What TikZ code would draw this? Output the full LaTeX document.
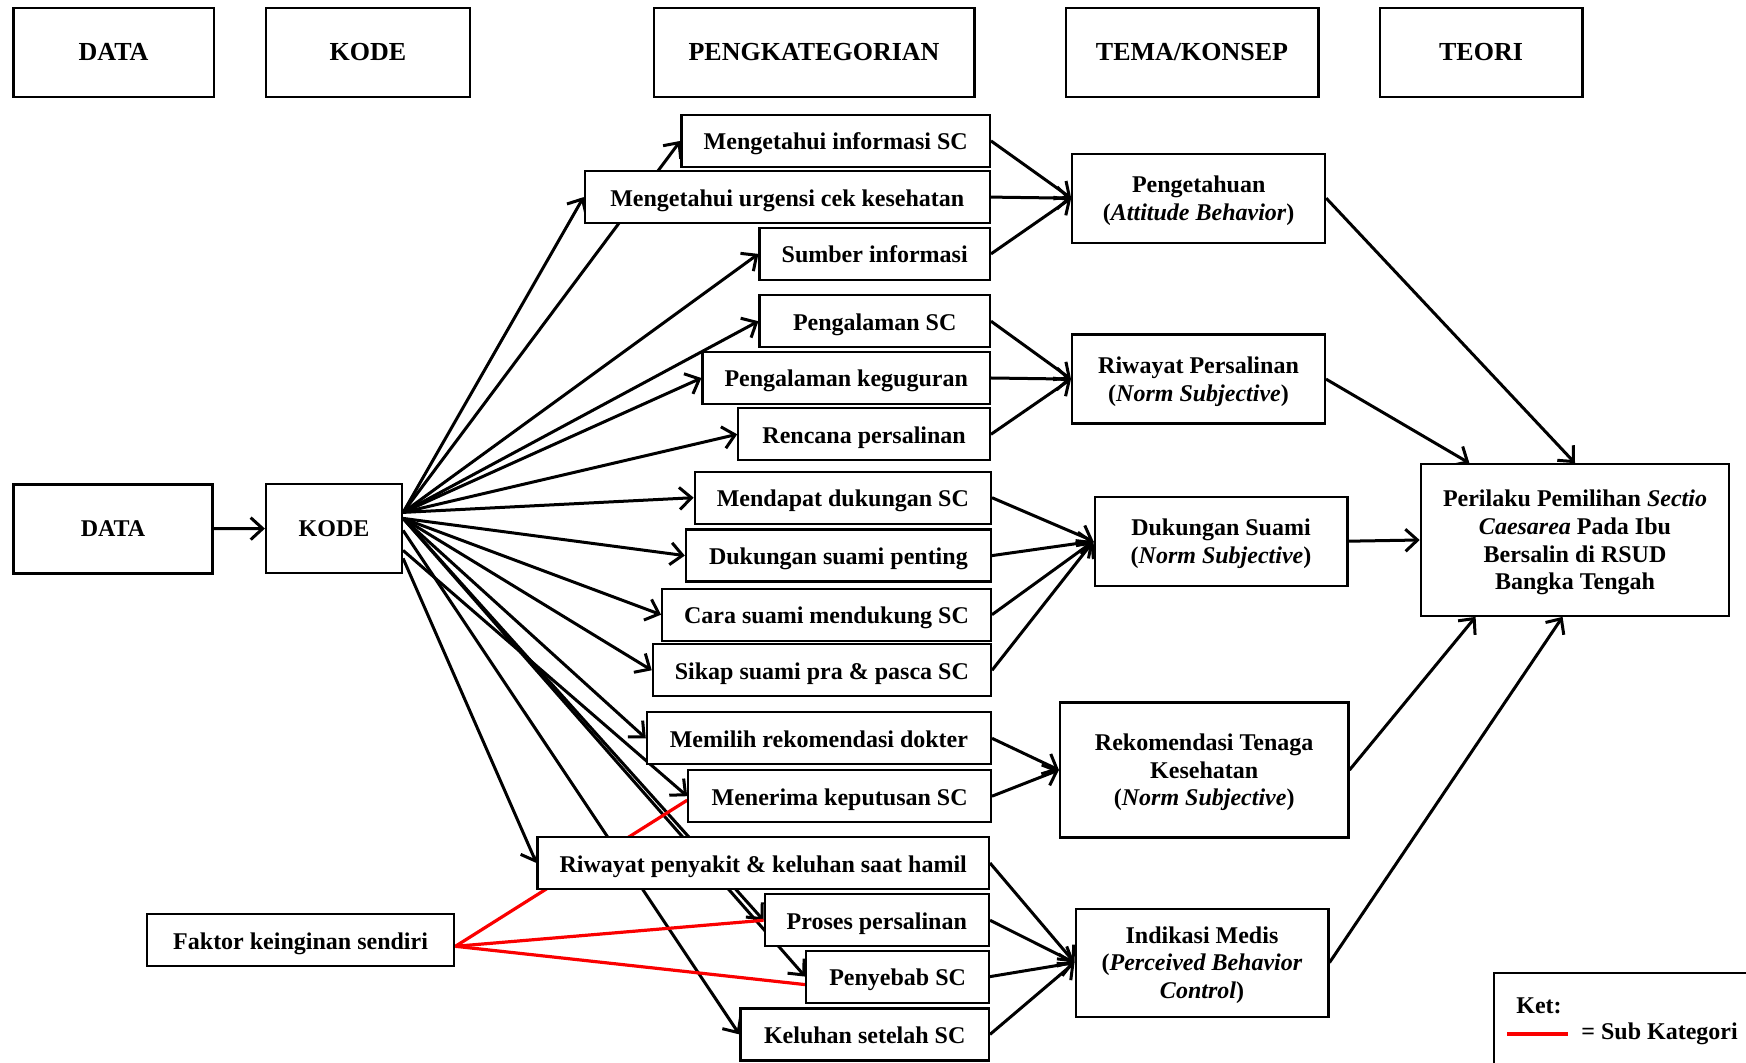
\documentclass[tikz,border=0pt]{standalone}
\usepackage{fontspec}
\setmainfont{Liberation Serif}
\usetikzlibrary{arrows.meta, calc, backgrounds}
\definecolor{subRed}{RGB}{250, 0, 0}

\begin{document}
\begin{tikzpicture}[
    x=0.5pt, y=-0.5pt,
    font=\fontsize{12}{13.8}\selectfont\bfseries,
    headbox/.style={
        rectangle, draw, line width=1.1pt, minimum height=44.5pt,
        font=\fontsize{13}{15}\selectfont\bfseries
    },
    srcbox/.style={rectangle, draw, line width=1.1pt, fill=white, minimum height=44.5pt},
    catbox/.style={
        rectangle, draw, line width=1.1pt, fill=white, minimum height=26pt,
        inner xsep=11pt, text height=10.5pt, text depth=1.5pt, anchor=east
    },
    temabox/.style={
        rectangle, draw, line width=1.1pt, fill=white, align=center,
        minimum width=126.4pt, minimum height=44.5pt, inner sep=2pt, text depth=-1.5pt
    },
    mainarrow/.style={-{Straight Barb[length=6pt, width=11pt]}, line width=1.5pt},
    subline/.style={subRed, line width=1.6pt}
]
\useasboundingbox (0,0) rectangle (1746,1063);

% header row
\node[headbox, minimum width=100.2pt] (hdata)  at (113.6,52.3) {DATA};
\node[headbox, minimum width=101.9pt] (hkode)  at (368,52.3)   {KODE};
\node[headbox, minimum width=160.4pt] (hkat)   at (814,52.3)   {PENGKATEGORIAN};
\node[headbox, minimum width=126.4pt] (htema)  at (1192,52.3)  {TEMA/KONSEP};
\node[headbox, minimum width=101.4pt] (hteori) at (1481,52.3)  {TEORI};

\node[srcbox, minimum width=99.5pt] (data) at (113,529)   {DATA};
\node[srcbox, minimum width=68pt]   (kode) at (334,528.4) {KODE};

% kategori
\node[catbox, minimum width=154.2pt] (c1)  at (991,140.9)  {Mengetahui informasi SC};
\node[catbox, minimum width=202.6pt] (c2)  at (991,197.1)  {Mengetahui urgensi cek kesehatan};
\node[catbox, minimum width=115.2pt] (c3)  at (991,253.9)  {Sumber informasi};
\node[catbox, minimum width=115.2pt] (c4)  at (991,321.2)  {Pengalaman SC};
\node[catbox, minimum width=143.6pt] (c5)  at (991,378)    {Pengalaman keguguran};
\node[catbox, minimum width=125.8pt] (c6)  at (991,434.3)  {Rencana persalinan};
\node[catbox, minimum width=148pt]   (c7)  at (992,497.7)  {Mendapat dukungan SC};
\node[catbox, minimum width=152.5pt] (c8)  at (992,555.6)  {Dukungan suami penting};
\node[catbox, minimum width=164.2pt] (c9)  at (992,614.7)  {Cara suami mendukung SC};
\node[catbox, minimum width=167.5pt] (c10) at (992,670.3)  {Sikap suami pra \& pasca SC};
\node[catbox, minimum width=172pt]   (c11) at (992,738.3)  {Memilih rekomendasi dokter};
\node[catbox, minimum width=151.3pt] (c12) at (992,796.2)  {Menerima keputusan SC};
\node[catbox, minimum width=225pt]   (c13) at (990,863)    {Riwayat penyakit \& keluhan saat hamil};
\node[catbox, minimum width=111.4pt] (c14) at (990,920.3)  {Proses persalinan};
\node[catbox, minimum width=91.3pt]  (c15) at (990,976.6)  {Penyebab SC};
\node[catbox, minimum width=124.2pt] (c16) at (990,1034.4) {Keluhan setelah SC};

\node[catbox, anchor=center, minimum width=153.7pt] (faktor) at (300.6,940.3) {Faktor keinginan sendiri};

% tema
\node[temabox] (t1) at (1198.7,198.2) {Pengetahuan\\(\textit{Attitude Behavior})};
\node[temabox] (t2) at (1198.5,379.1) {Riwayat Persalinan\\(\textit{Norm Subjective})};
\node[temabox] (t3) at (1221,541.2)   {Dukungan Suami\\(\textit{Norm Subjective})};
\node[temabox, minimum width=144.2pt, minimum height=67.4pt] (t4) at (1204.2,770) {Rekomendasi Tenaga\\Kesehatan\\(\textit{Norm Subjective})};
\node[temabox, minimum height=54pt] (t5) at (1202,962.6) {Indikasi Medis\\(\textit{Perceived Behavior}\\\textit{Control})};

\node[temabox, minimum width=154.2pt, minimum height=75.75pt] (teori) at (1575,540) {Perilaku Pemilihan \textit{Sectio}\\\textit{Caesarea} Pada Ibu\\Bersalin di RSUD\\Bangka Tengah};

% keterangan
\draw[line width=1.1pt] (1494,973) rectangle (1775,1085);
\node[anchor=west, inner sep=0pt] (ket) at (1516,1005.5) {Ket:};
\coordinate (ka) at (1507,1034);
\coordinate (kb) at (1568,1034);
\node[anchor=west, inner sep=0pt] (ketsub) at (1581,1034) {= Sub Kategori};

\begin{scope}[on background layer]
    \coordinate (kup)  at ([yshift=8pt]kode.east);
    \coordinate (kmid) at ([yshift=5pt]kode.east);
    \coordinate (kkel) at ([yshift=-1pt]kode.east);
    \coordinate (kmen) at ([yshift=-11pt]kode.east);
    \coordinate (kriw) at ([yshift=-15pt]kode.east);
    \coordinate (fk)   at ([yshift=-3pt]faktor.east);

    \draw[mainarrow] (data) -- (kode);

    \draw[mainarrow] (kup) -- (c1.west);
    \draw[mainarrow] (kup) -- (c2.west);
    \draw[mainarrow] (kup) -- (c3.west);
    \draw[mainarrow] (kup) -- (c4.west);
    \draw[mainarrow] (kup) -- (c5.west);
    \draw[mainarrow] (kup) -- (c6.west);
    \draw[mainarrow] (kup) -- (c7.west);
    \draw[mainarrow] (kmid) -- (c8.west);
    \draw[mainarrow] (kmid) -- (c9.west);
    \draw[mainarrow] (kmid) -- (c10.west);
    \draw[mainarrow] (kmid) -- (c11.west);
    \draw[mainarrow] (kmen) -- (c12.west);
    \draw[mainarrow] (kriw) -- (c13.west);
    \draw[mainarrow] (kmid) -- (c14.west);
    \draw[mainarrow] (kmid) -- (c15.west);
    \draw[mainarrow] (kkel) -- (c16.west);

    \draw[subline] (fk) -- ([yshift=-2pt]c12.west);
    \draw[subline] (fk) -- (c14.west);
    \draw[subline] (fk) -- ([yshift=-4pt]c15.west);

    \draw[mainarrow] (c1.east) -- (t1.west);
    \draw[mainarrow] (c2.east) -- (t1.west);
    \draw[mainarrow] (c3.east) -- (t1.west);
    \draw[mainarrow] (c4.east) -- (t2.west);
    \draw[mainarrow] (c5.east) -- (t2.west);
    \draw[mainarrow] (c6.east) -- (t2.west);
    \draw[mainarrow] (c7.east) -- (t3.west);
    \draw[mainarrow] (c8.east) -- (t3.west);
    \draw[mainarrow] (c9.east) -- (t3.west);
    \draw[mainarrow] (c10.east) -- (t3.west);
    \draw[mainarrow] (c11.east) -- (t4.west);
    \draw[mainarrow] (c12.east) -- (t4.west);
    \draw[mainarrow] (c13.east) -- (t5.west);
    \draw[mainarrow] (c14.east) -- (t5.west);
    \draw[mainarrow] (c15.east) -- (t5.west);
    \draw[mainarrow] (c16.east) -- (t5.west);

    \draw[mainarrow] (t1.east) -- (teori.north);
    \draw[mainarrow] (t2.east) -- ($(teori.north west)!0.16!(teori.north east)$);
    \draw[mainarrow] (t3.east) -- (teori.west);
    \draw[mainarrow] (t4.east) -- ($(teori.south west)!0.18!(teori.south east)$);
    \draw[mainarrow] (t5.east) -- ($(teori.south west)!0.46!(teori.south east)$);
\end{scope}

\draw[subline] (ka) -- (kb);
\end{tikzpicture}
\end{document}
